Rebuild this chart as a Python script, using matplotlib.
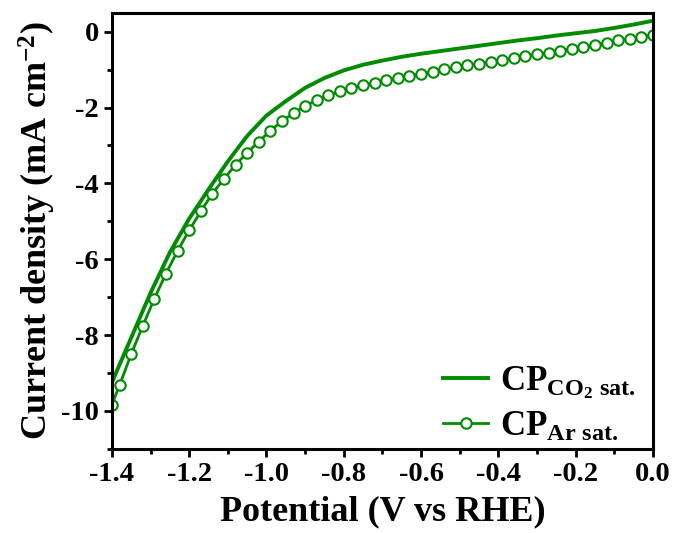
import numpy as np
import matplotlib
matplotlib.use('Agg')
import matplotlib.pyplot as plt

# LSV curves of carbon paper in CO2- and Ar-saturated electrolyte
potential_co2 = [-1.40, -1.35, -1.30, -1.25, -1.20, -1.15, -1.10, -1.05, -1.00, -0.95,
                 -0.90, -0.85, -0.80, -0.75, -0.70, -0.65, -0.60, -0.55, -0.50, -0.45,
                 -0.40, -0.35, -0.30, -0.25, -0.20, -0.15, -0.10, -0.05, 0.00]
current_co2 = [-9.25, -8.07, -6.89, -5.82, -4.93, -4.16, -3.42, -2.75, -2.21, -1.83,
               -1.48, -1.22, -1.02, -0.87, -0.76, -0.66, -0.58, -0.51, -0.44, -0.37,
               -0.30, -0.23, -0.17, -0.10, -0.04, 0.02, 0.10, 0.19, 0.29]

potential_ar = [-1.40, -1.38, -1.35, -1.32, -1.29, -1.26, -1.23, -1.20, -1.17, -1.14,
                -1.11, -1.08, -1.05, -1.02, -0.99, -0.96, -0.93, -0.90, -0.87, -0.84,
                -0.81, -0.78, -0.75, -0.72, -0.69, -0.66, -0.63, -0.60, -0.57, -0.54,
                -0.51, -0.48, -0.45, -0.42, -0.39, -0.36, -0.33, -0.30, -0.27, -0.24,
                -0.21, -0.18, -0.15, -0.12, -0.09, -0.06, -0.03, 0.00]
current_ar = [-9.84, -9.32, -8.50, -7.76, -7.04, -6.38, -5.78, -5.24, -4.74, -4.27,
              -3.88, -3.51, -3.19, -2.90, -2.61, -2.36, -2.15, -1.96, -1.80, -1.67,
              -1.57, -1.48, -1.41, -1.34, -1.28, -1.22, -1.17, -1.11, -1.05, -0.99,
              -0.94, -0.89, -0.84, -0.79, -0.74, -0.69, -0.64, -0.60, -0.55, -0.50,
              -0.45, -0.40, -0.35, -0.29, -0.23, -0.18, -0.13, -0.08]

x_ticks = [-1.4, -1.2, -1.0, -0.8, -0.6, -0.4, -0.2, 0.0]
y_ticks = [0, -2, -4, -6, -8, -10]

plt.rcParams['font.family'] = 'Liberation Serif'
plt.rcParams['font.weight'] = 'bold'
plt.rcParams['axes.unicode_minus'] = False
plt.rcParams['mathtext.fontset'] = 'custom'
plt.rcParams['mathtext.rm'] = 'Liberation Serif:bold'
plt.rcParams['mathtext.it'] = 'Liberation Serif:bold'
plt.rcParams['mathtext.bf'] = 'Liberation Serif:bold'

green = '#008c00'

fig = plt.figure(figsize=(6.78, 5.33), dpi=100)
ax = fig.add_axes([0.165, 0.158, 0.798, 0.818])

ax.plot(potential_co2, current_co2, color=green, lw=2.8,
        label=r'CP$_{\mathrm{CO_2\ sat.}}$')
ax.plot(potential_ar, current_ar, color=green, lw=2.0, marker='o', ms=7.5,
        mfc='white', mec=green, mew=1.5, label=r'CP$_{\mathrm{Ar\ sat.}}$')

ax.set_xlim(-1.4, 0.0)
ax.set_ylim(-11, 0.5)
ax.set_xticks(x_ticks)
ax.set_xticklabels(['%.1f' % t for t in x_ticks])
ax.set_yticks(y_ticks)
ax.set_xticks(np.arange(-1.4, 0.01, 0.1), minor=True)
ax.set_yticks(np.arange(-11, 0.6, 1), minor=True)

ax.tick_params(which='major', direction='out', length=6, width=2, labelsize=20.5)
ax.tick_params(which='minor', direction='out', length=3.5, width=2)
for sp in ax.spines.values():
    sp.set_linewidth(2.2)

ax.set_xlabel('Potential (V vs RHE)', fontsize=26, fontweight='bold', labelpad=6)
ax.set_ylabel(r'Current density (mA cm$^{\mathrm{-2}}$)', fontsize=26,
              fontweight='bold', labelpad=2)

ax.legend(loc='lower right', frameon=False, fontsize=25, handlelength=1.3,
          borderaxespad=0.0, labelspacing=0.28, handletextpad=0.35,
          bbox_to_anchor=(0.995, -0.02))

fig.savefig('out.png', dpi=100)
